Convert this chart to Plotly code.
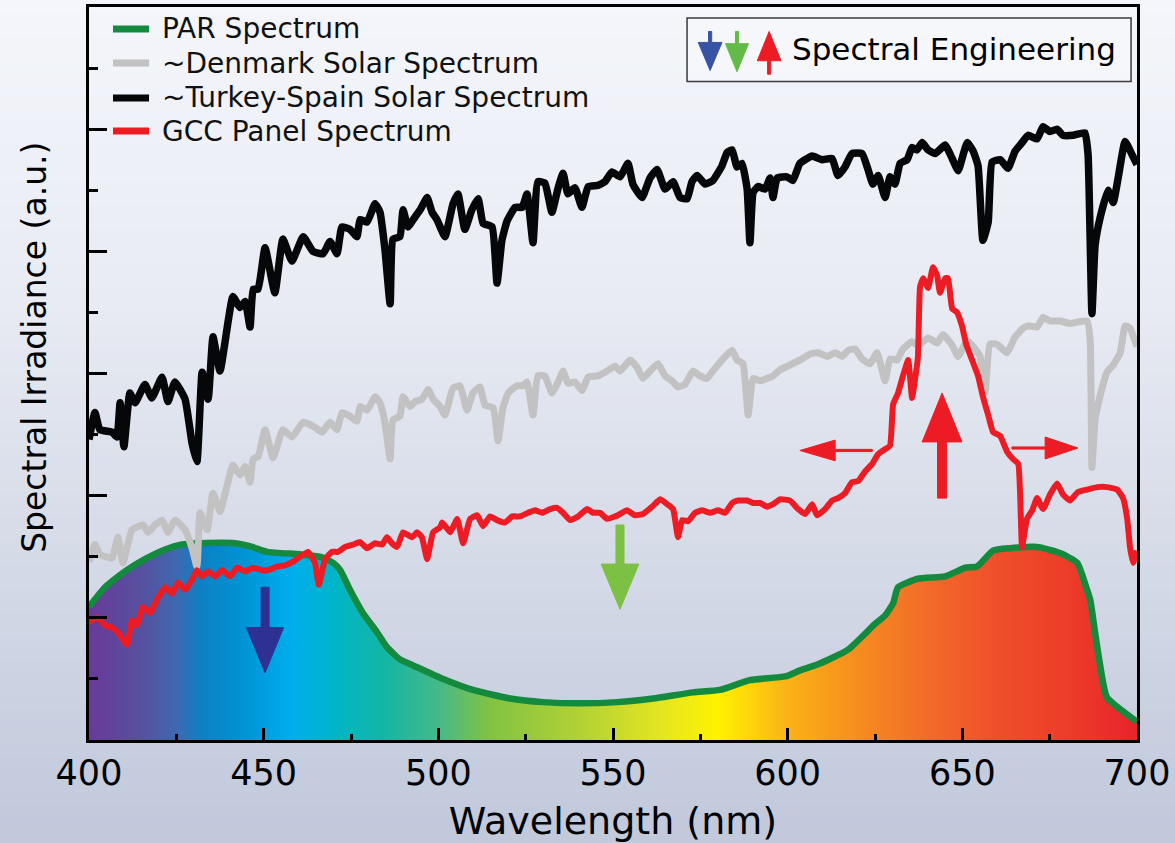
import plotly.graph_objects as go

# ---------------- data (wavelength nm, irradiance a.u.) ----------------
par = [(400.0,1.09),(404.6,1.25),(410.3,1.38),(416.0,1.48),(421.8,1.56),(426.6,1.60),(431.8,1.61),
       (441.8,1.61),(446.7,1.58),(451.0,1.54),(460.4,1.52),(466.1,1.50),(469.9,1.45),(471.9,1.39),
       (474.7,1.23),(478.4,1.04),(482.5,0.88),(485.3,0.76),(489.0,0.66),(492.8,0.61),(500.5,0.51),
       (509.9,0.41),(520.5,0.34),(530.0,0.31),(540.6,0.30),(551.2,0.31),(561.5,0.34),(572.9,0.39),
       (580.6,0.41),(589.2,0.49),(599.3,0.52),(603.5,0.57),(608.7,0.62),(617.3,0.74),(625.0,0.95),
       (627.9,1.02),(630.2,1.12),(631.6,1.25),(637.3,1.32),(645.1,1.34),(650.8,1.41),(654.2,1.42),
       (658.8,1.55),(663.7,1.57),(671.4,1.58),(678.0,1.53),(682.9,1.45),(685.7,1.23),(686.6,1.15),
       (688.0,0.88),(689.4,0.62),(691.4,0.35),(700.0,0.15)]

denmark = [(400.0,1.46),(401.7,1.60),(403.1,1.52),(406.6,1.49),(408.3,1.66),(409.7,1.45),(412.3,1.72),
           (415.5,1.76),(416.9,1.70),(418.9,1.76),(420.9,1.80),(422.6,1.70),(424.6,1.80),(427.5,1.72),
           (429.5,1.57),(430.9,1.42),(431.8,1.86),(433.8,1.72),(435.5,2.02),(437.5,1.87),(441.2,2.25),
           (443.2,2.17),(444.7,2.24),(446.1,2.11),(447.0,2.30),(448.4,2.32),(450.4,2.54),(452.7,2.31),
           (455.5,2.54),(458.1,2.48),(461.3,2.60),(464.1,2.57),(466.7,2.52),(469.0,2.60),(471.0,2.54),
           (472.4,2.68),(474.7,2.65),(476.7,2.61),(477.6,2.73),(479.6,2.70),(481.9,2.81),(483.3,2.76),
           (484.7,2.60),(486.2,2.30),(487.0,2.62),(489.0,2.65),(489.9,2.81),(491.9,2.73),(493.3,2.77),
           (495.3,2.79),(497.1,2.87),(498.5,2.79),(500.5,2.73),(501.9,2.66),(504.2,2.88),(506.2,2.90),
           (508.2,2.70),(509.9,2.84),(511.9,2.89),(513.4,2.74),(515.7,2.72),(517.1,2.45),(518.5,2.72),
           (520.0,2.84),(522.5,2.90),(524.2,2.90),(525.4,2.93),(527.1,2.66),(528.5,2.98),(530.5,2.98),
           (532.5,2.84),(534.3,2.93),(535.7,3.02),(537.1,2.92),(539.1,2.93),(541.1,2.86),(542.9,2.97),
           (545.7,2.98),(547.7,3.01),(550.6,3.06),(552.0,3.02),(554.9,3.11),(556.9,3.05),(558.6,2.96),
           (560.6,3.02),(562.9,3.08),(564.9,2.98),(566.9,2.94),(568.6,2.89),(570.6,2.91),(572.9,3.02),
           (574.9,2.98),(576.9,2.96),(578.6,3.02),(581.2,3.11),(584.1,3.19),(585.5,3.11),(587.2,3.08),
           (588.7,2.66),(590.1,2.96),(592.1,2.94),(594.1,2.96),(595.8,2.98),(597.8,3.03),(600.7,3.07),
           (604.1,3.12),(606.4,3.16),(608.7,3.17),(611.3,3.14),(613.6,3.17),(615.6,3.14),(617.3,3.19),
           (619.3,3.20),(621.3,3.12),(623.6,3.08),(625.6,3.17),(627.9,2.94),(629.3,3.12),(631.3,3.11),
           (633.0,3.20),(635.6,3.26),(637.3,3.23),(640.2,3.29),(642.8,3.25),(644.5,3.32),(647.1,3.23),
           (648.8,3.14),(651.4,3.27),(653.7,3.20),(655.1,3.14),(656.5,2.84),(657.9,3.24),(659.9,3.24),
           (662.8,3.17),(665.1,3.30),(667.4,3.37),(668.8,3.39),(671.4,3.38),(673.1,3.46),(675.1,3.43),
           (677.9,3.43),(680.8,3.41),(685.7,3.43),(686.6,3.27),(687.1,2.23),(688.0,2.62),(689.4,2.81),
           (691.4,3.01),(693.2,3.07),(695.2,3.17),(696.6,3.39),(698.0,3.37),(700.0,3.22)]

turkey_spain = [(400.0,2.46),(401.7,2.68),(403.1,2.54),(406.6,2.52),(408.0,2.48),(408.9,2.76),(410.0,2.40),
                (411.7,2.84),(413.2,2.76),(416.0,2.91),(418.0,2.80),(420.9,2.97),(422.6,2.77),(424.6,2.93),
                (427.5,2.79),(429.5,2.43),(430.9,2.28),(432.4,3.01),(434.1,2.79),(435.5,3.30),(437.5,3.02),
                (441.2,3.63),(443.2,3.54),(444.7,3.59),(446.1,3.38),(447.0,3.69),(448.4,3.69),(450.4,4.03),
                (453.2,3.66),(455.5,4.10),(458.1,3.92),(461.3,4.12),(464.1,4.00),(467.0,3.98),(469.0,4.08),
                (471.0,3.98),(472.4,4.20),(474.7,4.18),(476.7,4.12),(477.6,4.26),(479.6,4.24),(481.9,4.39),
                (483.3,4.32),(484.7,4.02),(486.2,3.57),(487.0,4.10),(489.0,4.12),(489.9,4.34),(491.3,4.20),
                (492.8,4.26),(494.8,4.34),(496.8,4.44),(498.2,4.32),(499.6,4.26),(501.9,4.12),(504.2,4.39),
                (505.6,4.47),(507.6,4.18),(509.6,4.34),(511.4,4.43),(512.8,4.23),(515.4,4.20),(516.8,3.74),
                (518.2,4.09),(519.7,4.25),(522.0,4.36),(524.0,4.36),(525.4,4.47),(527.1,4.07),(528.5,4.57),
                (530.5,4.56),(532.5,4.32),(534.3,4.52),(535.7,4.64),(537.1,4.47),(539.1,4.52),(541.1,4.36),
                (542.9,4.53),(545.7,4.54),(547.7,4.57),(549.7,4.65),(552.0,4.61),(554.3,4.72),(555.7,4.55),
                (558.3,4.44),(560.6,4.60),(562.6,4.67),(564.9,4.51),(567.2,4.57),(569.2,4.44),(571.2,4.43),
                (572.6,4.57),(574.1,4.62),(576.4,4.55),(578.6,4.58),(581.2,4.70),(582.7,4.81),(584.1,4.83),
                (585.5,4.69),(586.9,4.72),(588.4,4.51),(589.2,4.07),(590.1,4.48),(591.5,4.53),(593.5,4.51),
                (595.0,4.60),(595.8,4.44),(597.0,4.60),(599.8,4.61),(601.5,4.58),(603.5,4.72),(607.0,4.78),
                (609.8,4.75),(612.7,4.76),(614.4,4.62),(616.4,4.69),(618.4,4.80),(621.3,4.80),(623.0,4.67),
                (624.4,4.55),(625.9,4.62),(627.9,4.44),(629.3,4.61),(630.7,4.55),(632.2,4.72),(634.2,4.75),
                (635.6,4.85),(637.0,4.83),(638.5,4.89),(640.2,4.83),(642.2,4.80),(645.1,4.87),(647.1,4.76),
                (648.8,4.66),(651.4,4.89),(653.1,4.82),(654.5,4.70),(655.9,4.09),(657.4,4.24),(658.5,4.73),
                (660.8,4.75),(663.1,4.68),(665.1,4.82),(667.1,4.89),(668.8,4.95),(671.4,4.92),(673.1,5.02),
                (675.1,4.98),(677.1,5.00),(678.8,4.95),(681.7,4.95),(685.1,4.97),(686.0,4.79),(687.1,3.49),
                (688.0,4.05),(689.4,4.27),(691.7,4.50),(693.2,4.40),(694.6,4.60),(696.6,4.90),(698.6,4.79),
                (700.0,4.71)]

gcc_panel = [(400.0,0.96),(400.9,0.98),(402.6,1.00),(404.6,0.94),(406.6,0.92),(408.3,0.88),(410.9,0.78),
             (412.3,0.98),(413.7,0.94),(415.5,1.09),(417.5,1.04),(419.5,1.15),(421.8,1.25),(423.8,1.20),
             (425.5,1.29),(427.5,1.23),(429.5,1.31),(430.9,1.39),(432.4,1.34),(434.1,1.38),(436.1,1.34),
             (438.1,1.39),(440.4,1.34),(442.4,1.41),(444.7,1.38),(447.0,1.41),(449.5,1.39),(451.2,1.39),
             (453.8,1.42),(456.1,1.43),(458.4,1.46),(460.4,1.50),(462.7,1.54),(464.7,1.45),(465.8,1.27),
             (467.6,1.48),(469.6,1.54),(471.3,1.54),(473.3,1.58),(475.6,1.60),(477.6,1.62),(479.6,1.57),
             (481.9,1.61),(483.9,1.60),(485.3,1.66),(486.7,1.61),(488.2,1.58),(489.9,1.70),(492.5,1.66),
             (493.9,1.70),(495.3,1.66),(496.8,1.48),(498.5,1.70),(500.5,1.74),(501.1,1.78),(503.4,1.70),
             (505.4,1.81),(507.1,1.61),(509.1,1.81),(511.1,1.84),(512.8,1.75),(514.8,1.83),(516.8,1.80),
             (519.1,1.78),(521.1,1.83),(523.4,1.83),(525.7,1.86),(527.7,1.88),(529.7,1.86),(532.0,1.89),
             (534.0,1.90),(535.7,1.86),(537.7,1.80),(540.0,1.83),(542.6,1.89),(544.3,1.86),(546.3,1.86),
             (548.3,1.81),(550.6,1.83),(551.4,1.84),(554.0,1.88),(556.3,1.84),(558.6,1.85),(561.2,1.91),
             (563.5,1.97),(565.5,1.93),(567.2,1.89),(568.6,1.66),(569.8,1.80),(571.5,1.79),(573.5,1.86),
             (575.5,1.88),(577.8,1.86),(580.1,1.88),(582.1,1.86),(584.1,1.94),(585.8,1.96),(588.4,1.96),
             (590.1,1.94),(592.1,1.94),(594.1,1.91),(595.8,1.93),(597.8,1.97),(600.7,1.96),(603.0,1.89),
             (605.0,1.85),(607.0,1.93),(608.4,1.84),(610.7,1.89),(612.7,1.96),(614.4,1.98),(616.4,2.02),
             (618.4,2.11),(620.2,2.12),(622.2,2.20),(624.2,2.26),(625.9,2.34),(627.9,2.38),(629.3,2.41),
             (630.2,2.75),(631.6,2.84),(633.0,2.98),(634.5,3.11),(635.6,2.80),(636.5,2.96),(637.3,3.14),
             (637.9,3.71),(638.8,3.78),(640.2,3.70),(641.6,3.87),(642.8,3.80),(643.6,3.66),(645.1,3.78),
             (645.9,3.78),(647.1,3.53),(648.5,3.50),(649.9,3.39),(651.1,3.24),(652.8,3.11),(654.5,2.98),
             (655.9,2.81),(657.4,2.66),(658.8,2.52),(660.8,2.49),(662.8,2.36),(664.5,2.30),(666.0,2.26),
             (667.1,1.58),(668.5,1.81),(670.0,1.88),(671.4,1.98),(673.1,1.89),(675.1,2.01),(677.1,2.10),
             (678.8,2.01),(680.8,1.96),(683.1,2.03),(685.7,2.05),(688.6,2.07),(691.4,2.07),(694.3,2.05),
             (696.0,1.98),(697.2,1.81),(698.0,1.58),(698.9,1.45),(700.0,1.55)]

x_ticks = [400, 450, 500, 550, 600, 650, 700]
x_tick_labels = ["400", "450", "500", "550", "600", "650", "700"]
series_names = ["PAR Spectrum", "~Denmark Solar Spectrum", "~Turkey-Spain Solar Spectrum", "GCC Panel Spectrum"]
series_colors = ["#138a3e", "#c2c2c2", "#050708", "#ed1c24"]

# rainbow fill colours by wavelength
rainbow_nm = [400, 415, 425, 432, 445, 458, 470, 485, 500, 515, 540, 565, 580, 600, 620, 640, 660, 680, 700]
rainbow_col = ["#69399a", "#57509f", "#3f68b0", "#0c80c3", "#0095d6", "#00aeef", "#00b5c8", "#14b6a4",
               "#45b98a", "#82c341", "#b1d136", "#e6e620", "#fff200", "#fbb216", "#f68d1f", "#f26b29",
               "#ef4f2a", "#ec3d29", "#e8232b"]

FONT = "DejaVu Sans"


def unzip(pairs):
    return [p[0] for p in pairs], [p[1] for p in pairs]


fig = go.Figure()

px_, py_ = unzip(par)
fig.add_trace(go.Scatter(
    x=px_, y=py_, mode="lines", fill="tozeroy",
    line=dict(width=0, color="rgba(0,0,0,0)", shape="spline", smoothing=0.5),
    fillgradient=dict(type="horizontal", start=400, stop=700,
                      colorscale=[[(n - 400) / 300, c] for n, c in zip(rainbow_nm, rainbow_col)]),
    showlegend=False, hoverinfo="skip"))
fig.add_trace(go.Scatter(x=px_, y=py_, mode="lines", name=series_names[0], showlegend=False,
                         line=dict(color=series_colors[0], width=6.5, shape="spline", smoothing=0.5)))
dx, dy = unzip(denmark)
fig.add_trace(go.Scatter(x=dx, y=dy, mode="lines", name=series_names[1], showlegend=False,
                         line=dict(color=series_colors[1], width=7, shape="spline", smoothing=0.4)))
tx, ty = unzip(turkey_spain)
fig.add_trace(go.Scatter(x=tx, y=ty, mode="lines", name=series_names[2], showlegend=False,
                         line=dict(color=series_colors[2], width=7.5, shape="spline", smoothing=0.4)))
gx, gy = unzip(gcc_panel)
fig.add_trace(go.Scatter(x=gx, y=gy, mode="lines", name=series_names[3], showlegend=False,
                         line=dict(color=series_colors[3], width=6, shape="spline", smoothing=0.4)))

shapes = []
annotations = []

# background vertical gradient (paper coords; plot area spans px 7..740 vertically)
def lerp(c0, c1, t):
    return tuple(round(a + (b - a) * t) for a, b in zip(c0, c1))

stops = [(0, (244, 246, 251)), (300, (232, 235, 243)), (560, (213, 218, 231)), (843, (192, 200, 219))]
step = 12
for top in range(0, 843, step):
    mid = top + step / 2
    for (p0, c0), (p1, c1) in zip(stops[:-1], stops[1:]):
        if p0 <= mid <= p1:
            col = lerp(c0, c1, (mid - p0) / (p1 - p0))
            break
    shapes.append(dict(type="rect", xref="paper", yref="paper", layer="below",
                       x0=-0.1, x1=1.1, y0=(740 - top - step - 1) / 733, y1=(740 - top) / 733,
                       line=dict(width=0), fillcolor="rgb(%d,%d,%d)" % col))


def vert_arrow(xc, y_start, y_head, y_tip, head_hw, shaft_hw, color):
    path = (f"M {xc-shaft_hw},{y_start} L {xc+shaft_hw},{y_start} L {xc+shaft_hw},{y_head} "
            f"L {xc+head_hw},{y_head} L {xc},{y_tip} L {xc-head_hw},{y_head} L {xc-shaft_hw},{y_head} Z")
    return dict(type="path", path=path, xref="x", yref="y", fillcolor=color,
                line=dict(color=color, width=1), layer="above")


def horiz_arrow(yc, x_start, x_head, x_tip, head_hh, shaft_hh, color):
    path = (f"M {x_start},{yc-shaft_hh} L {x_start},{yc+shaft_hh} L {x_head},{yc+shaft_hh} "
            f"L {x_head},{yc+head_hh} L {x_tip},{yc} L {x_head},{yc-head_hh} L {x_head},{yc-shaft_hh} Z")
    return dict(type="path", path=path, xref="x", yref="y", fillcolor=color,
                line=dict(color=color, width=1), layer="above")


# arrows in the plot
shapes.append(vert_arrow(450.4, 1.25, 0.92, 0.55, 5.3, 1.15, "#2e3192"))
shapes.append(vert_arrow(552.0, 1.76, 1.44, 1.07, 5.4, 1.15, "#7cc143"))
shapes.append(vert_arrow(644.2, 1.98, 2.44, 2.84, 5.7, 1.3, "#ed1c24"))
shapes.append(horiz_arrow(2.37, 624.2, 613.6, 603.5, 0.085, 0.009, "#ed1c24"))
shapes.append(horiz_arrow(2.39, 664.2, 673.7, 683.1, 0.09, 0.009, "#ed1c24"))

# "Spectral Engineering" key box
shapes.append(dict(type="rect", xref="x", yref="y", x0=571.2, x1=698.3, y0=5.39, y1=5.91,
                   line=dict(color="#3a3a3a", width=1.5), fillcolor="rgba(248,249,252,0.6)", layer="above"))
shapes.append(vert_arrow(577.8, 5.80, 5.71, 5.48, 3.4, 0.45, "#3953a4"))
shapes.append(vert_arrow(585.5, 5.80, 5.70, 5.47, 3.3, 0.45, "#62bb46"))
shapes.append(vert_arrow(594.7, 5.45, 5.56, 5.80, 3.4, 0.45, "#ed1c24"))
annotations.append(dict(x=600.7, y=5.655, xref="x", yref="y", text="Spectral Engineering",
                        showarrow=False, xanchor="left", yanchor="middle",
                        font=dict(family=FONT, size=31, color="#000000")))

# series key (top-left), paper coordinates
key_rows = [0.970, 0.9236, 0.8759, 0.8308]
for name, colr, yk in zip(series_names, series_colors, key_rows):
    shapes.append(dict(type="line", xref="paper", yref="paper", x0=0.0229, x1=0.0573, y0=yk, y1=yk,
                       line=dict(color=colr, width=7), layer="above"))
    annotations.append(dict(x=0.0677, y=yk, xref="paper", yref="paper", text=name, showarrow=False,
                            xanchor="left", yanchor="middle",
                            font=dict(family=FONT, size=28, color="#111111")))

# y-axis title (placed like the original, slightly above the plot centre)
annotations.append(dict(x=-0.0515, y=0.535, xref="paper", yref="paper", text="Spectral Irradiance (a.u.)",
                        textangle=-90, showarrow=False, xanchor="center", yanchor="middle",
                        font=dict(family=FONT, size=33, color="#000000")))

fig.update_layout(
    width=1175, height=843,
    margin=dict(l=89, r=38, t=7, b=103, autoexpand=False),
    paper_bgcolor="rgb(225,229,238)",
    plot_bgcolor="rgba(0,0,0,0)",
    font=dict(family=FONT, color="#000000"),
    shapes=shapes,
    annotations=annotations,
    showlegend=False,
)

fig.update_xaxes(
    range=[400, 700], tickvals=x_ticks, ticktext=x_tick_labels,
    ticks="inside", ticklen=12, tickwidth=3, tickcolor="#000000",
    minor=dict(ticks="inside", ticklen=6, tickwidth=3, dtick=25, tickcolor="#000000"),
    showline=True, linewidth=3, linecolor="#000000", mirror=True,
    showgrid=False, zeroline=False, automargin=False,
    tickfont=dict(family=FONT, size=35, color="#000000"),
    title=dict(text="Wavelength (nm)", font=dict(family=FONT, size=38, color="#000000"), standoff=16),
)
fig.update_yaxes(
    range=[0, 6], dtick=1, tick0=0, showticklabels=False,
    ticks="inside", ticklen=18, tickwidth=3, tickcolor="#000000",
    minor=dict(ticks="inside", ticklen=9, tickwidth=3, dtick=0.5, tickcolor="#000000"),
    showline=True, linewidth=3, linecolor="#000000", mirror=True,
    showgrid=False, zeroline=False, automargin=False,
)

fig.write_html("out.html", config={"displayModeBar": False},
               post_script="document.body.style.margin='0px';document.body.style.overflow='hidden';")
